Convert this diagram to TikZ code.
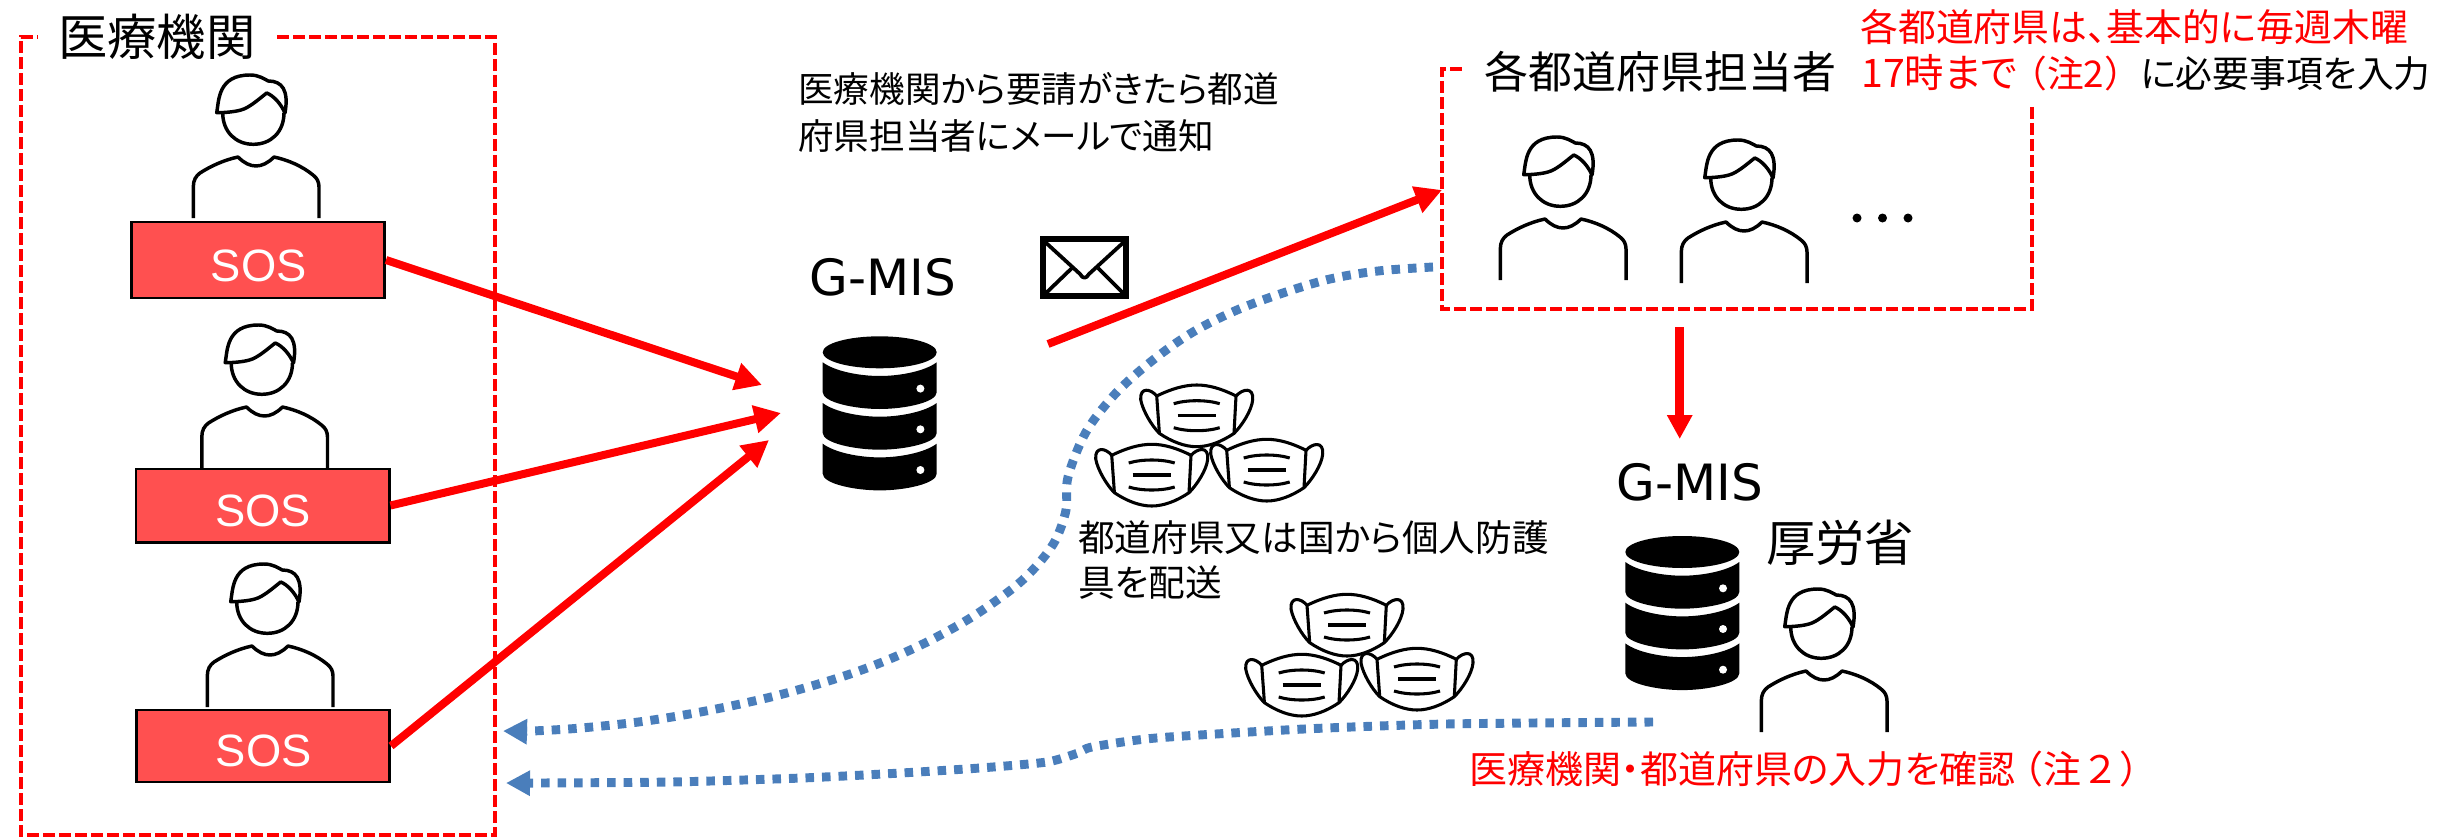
\documentclass[tikz,border=0pt]{standalone}
\usepackage{fontspec}
\usetikzlibrary{arrows.meta}
\setmainfont{Liberation Sans}
\newfontfamily\jp[RawFeature=+palt]{Noto Sans CJK JP}
\newfontfamily\jpw{Noto Sans CJK JP}
\newfontfamily\djv{DejaVu Sans}
\definecolor{sosred}{HTML}{FF5050}
\definecolor{dotblue}{HTML}{4A7EBB}
\tikzset{
  icon/.style={draw=black,line width=2.6pt,line join=round,fill=none},
  redbox/.style={draw=red,line width=3pt,dash pattern=on 9pt off 3pt},
  sosbox/.style={draw=black,line width=2pt,fill=sosred,text=white,inner sep=0pt,font=\fontsize{34}{34}\selectfont},
  redarrow/.style={draw=red,line width=6pt,-{Triangle[length=20pt,width=20pt]}},
  bluearrow/.style={draw=dotblue,line width=6.7pt,dash pattern=on 6.4pt off 6pt,-{Triangle[length=18pt,width=18pt,fill=dotblue]}},
  gmis/.style={inner sep=0pt,font=\djv\fontsize{37.5}{37.5}\selectfont},
  jpa/.style={inner sep=0pt,anchor=west,align=left,font=\jp\fontsize{26.7}{26.7}\selectfont},
  person/.pic={
    \draw[icon] (-33.3,-105.3) .. controls (-33.3,-86) and (-20,-73.7) .. (-2.7,-73.7) .. controls (15,-73.7) and (28,-86) .. (28,-105.3);
    \draw[icon] (-39.3,-105.3) .. controls (-37,-118) and (-38,-143) .. (-6,-143) .. controls (3,-143) and (8,-139) .. (12.3,-137) .. controls (26,-137) and (33,-128) .. (29,-105) .. controls (25,-114) and (18,-122) .. (10.7,-125) .. controls (3,-119) and (-7,-110) .. (-15,-108) .. controls (-22,-106) and (-32,-105.3) .. (-39.3,-105.3) -- cycle;
    \draw[icon] (-62.7,0) -- (-62.7,-31) .. controls (-62.7,-38) and (-60,-42) .. (-56,-45) .. controls (-45,-52) and (-32,-58) .. (-18,-61) .. controls (-12,-55) and (-6,-52) .. (0,-52) .. controls (6,-52) and (12,-55) .. (18,-61) .. controls (32,-58) and (46,-52) .. (57,-43) .. controls (61,-40) and (63,-36) .. (63,-31) -- (63,0);
  },
  dbsec/.pic={
    \fill[black] (-57,10) .. controls (-45,19) and (-20,23.7) .. (0,23.7) .. controls (20,23.7) and (45,19) .. (57,10) -- (57,40) .. controls (57,50) and (25,56.7) .. (0,56.7) .. controls (-25,56.7) and (-57,50) .. (-57,40) -- cycle;
    \fill[white] (40.7,36.3) circle (4);
  },
  dbicon/.pic={
    \fill[black] (0,0) ellipse [x radius=57,y radius=16];
    \pic at (0,0) {dbsec};
    \pic at (0,40.7) {dbsec};
    \pic at (0,81.4) {dbsec};
  },
  maskicon/.pic={
    \draw[icon,fill=white,line width=2.3pt] (-40,-19.7) .. controls (-46,-27) and (-57,-29) .. (-56,-16) .. controls (-54,-5) and (-45,10) .. (-37.3,17.7) .. controls (-25,26) and (-12,31) .. (0,31) .. controls (12,31) and (25,26) .. (37.3,17.7) .. controls (45,10) and (55,-5) .. (56,-16) .. controls (57,-29) and (46,-27) .. (39.3,-19.7) .. controls (25,-27) and (12,-30.7) .. (0,-30.7) .. controls (-12,-30.7) and (-25,-27) .. (-40,-19.7) -- cycle;
    \draw[icon,line width=2.3pt] (-40,-19.7) -- (-37.3,17.7);
    \draw[icon,line width=2.3pt] (39.3,-19.7) -- (37.3,17.7);
    \draw[icon,line width=2.3pt] (-23,-12) .. controls (-10,-16) and (10,-16) .. (23,-12);
    \draw[icon,line width=2.3pt] (-19,0) -- (19,0);
    \draw[icon,line width=2.3pt] (-23,12) .. controls (-10,16) and (10,16) .. (23,12);
  }
}
\begin{document}
\begin{tikzpicture}[x=0.75pt,y=-0.75pt]
\useasboundingbox (0,0) rectangle (2454,838);
% dashed frames
\draw[redbox] (277,37) -- (495,37) -- (495,835) -- (21,835) -- (21,37) -- (38,37);
\draw[redbox] (2032,107) -- (2032,309) -- (1442,309) -- (1442,69) -- (1462,69);
% frame titles
\node[jpa,font=\jp\fontsize{37}{37}\selectfont] (t1) at (58,37) {医療機関};
\node[jpa,font=\jp\fontsize{33}{33}\selectfont] (t2) at (1484,72) {各都道府県担当者};
% people
\pic (p1) at (256,218) {person};
\pic (p2) at (264.5,468) {person};
\pic (p3) at (270,707) {person};
\pic (p4) at (1563,280) {person};
\pic (p5) at (1744,283) {person};
\pic (p6) at (1824,732) {person};
% SOS boxes
\node[sosbox,minimum width=190pt,minimum height=57pt] (s1) at (258,260) {\raisebox{-4pt}[24pt][0pt]{\kern1pt SOS}};
\node[sosbox,minimum width=190pt,minimum height=55pt] (s2) at (262.5,505.5) {\raisebox{-4pt}[24pt][0pt]{\kern1pt SOS}};
\node[sosbox,minimum width=190pt,minimum height=54pt] (s3) at (263,746) {\raisebox{-3pt}[24pt][0pt]{\kern1pt SOS}};
% dots
\fill (1857,218) circle (4.5) (1882.5,218) circle (4.5) (1908,218) circle (4.5);
% databases
\node[gmis] (g1) at (883,277) {G-MIS};
\pic (db1) at (879.7,352.3) {dbicon};
\node[gmis] (g2) at (1690,482) {G-MIS};
\pic (db2) at (1682.3,552) {dbicon};
\node[jpa,font=\jp\fontsize{37}{37}\selectfont] (mhlw) at (1766,543) {厚労省};
% envelope
\draw[black,line width=4.4pt] (1043,239) rectangle (1126,296);
\draw[black,line width=2.8pt,line join=round] (1044,241) -- (1080,274) .. controls (1083,279) and (1086,279) .. (1089,274) -- (1125,241);
\draw[black,line width=2.8pt] (1072,268) -- (1045,294);
\draw[black,line width=2.8pt] (1098,268) -- (1124,294);
% masks
\pic (m1) at (1196.7,415.7) {maskicon};
\pic (m2) at (1151.7,475) {maskicon};
\pic (m3) at (1266.7,470) {maskicon};
\pic (m4) at (1347,625) {maskicon};
\pic (m5) at (1301.7,685) {maskicon};
\pic (m6) at (1417,679) {maskicon};
% anchors for connectors
\coordinate (in1) at (762,385);
\coordinate (in2) at (781,413);
\coordinate (in3) at (769,440);
\coordinate (out1) at (1048,344);
\coordinate (in4) at (1442,190);
\coordinate (out2) at (1679.7,327);
\coordinate (in5) at (1679.7,439);
\coordinate (b1s) at (1433,267);
\coordinate (b1e) at (503,731);
\coordinate (b2s) at (1653,722);
\coordinate (b2e) at (506,783);
% red arrows
\draw[redarrow] (s1.east) -- (in1);
\draw[redarrow] (s2.east) -- (in2);
\draw[redarrow] (s3.east) -- (in3);
\draw[redarrow] (out1) -- (in4);
\draw[redarrow,line width=6.5pt,-{Triangle[length=18pt,width=18pt]}] (out2) -- (in5);
% blue dotted arrows
\draw[bluearrow] plot[smooth,tension=0.55] coordinates {(b1s) (1378,271) (1330,279) (1283,293) (1237,310) (1193,332) (1153,360) (1116,393) (1086,432) (1068,477) (1066,510) (1055,541) (1035.5,567) (1012,589) (972,617) (929,641) (885,661) (838,678) (775,696) (711,710) (646,721) (581,728) (531.5,731) (b1e)};
\draw[bluearrow] plot[smooth,tension=0.4] coordinates {(b2s) (1446,724) (1304,729) (1156,738) (1092,747) (1078,753) (1047,762) (980,768) (901,773) (802,778) (672,782) (539,783) (b2e)};
% captions
\node[jpa] (c1) at (798,89) {医療機関から要請がきたら都道};
\node[jpa] (c2) at (798,136) {府県担当者にメールで通知};
\node[jpa,font=\jp\fontsize{27.5}{27.5}\selectfont] (c3) at (1078,538) {都道府県又は国から個人防護};
\node[jpa,font=\jp\fontsize{27.5}{27.5}\selectfont] (c4) at (1078,583) {具を配送};
\node[jpa,text=red,font=\jp\fontsize{28.4}{28.4}\selectfont] (c5) at (1860,27) {各都道府県は、基本的に毎週木曜};
\node[jpa,font=\jp\fontsize{27.6}{27.6}\selectfont] (c6) at (1861,73) {{\color{red}{\fontsize{29.5}{29.5}\selectfont 17時まで}\kern-5pt{\jpw（}注2{\jpw）}}\kern-0.5pt に必要事項を入力};
\node[jpa,text=red,font=\jp\fontsize{28.5}{28.5}\selectfont] (c7) at (1469,769) {医療機関・都道府県の入力を確認\kern-8pt{\jpw（注２）}};
\end{tikzpicture}
\end{document}
